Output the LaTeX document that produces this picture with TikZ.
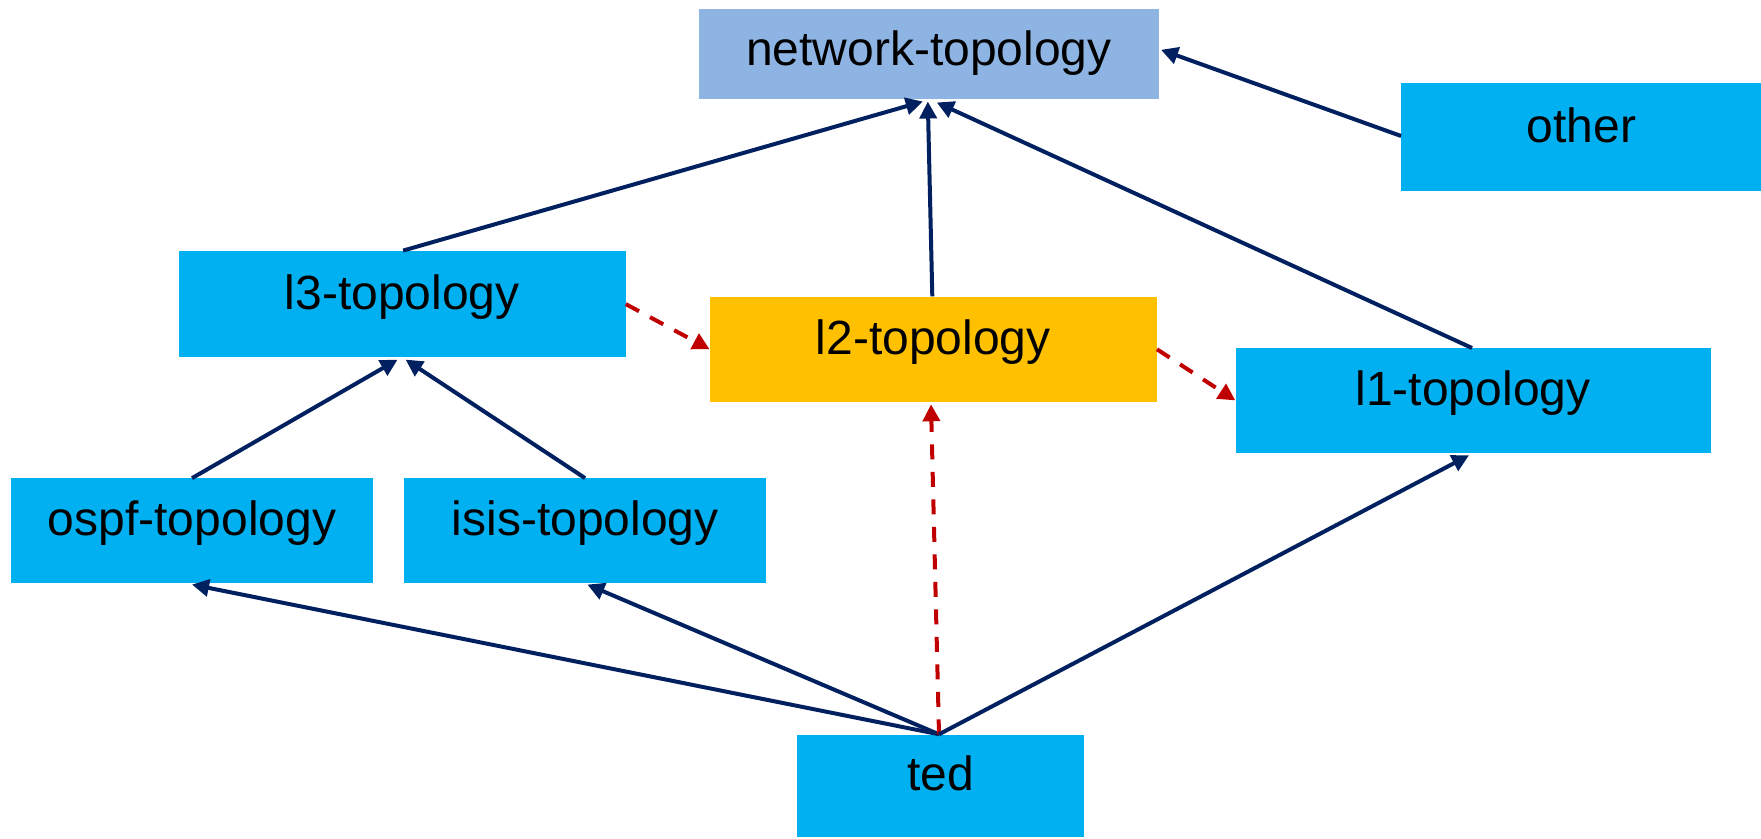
\documentclass[tikz,border=0pt]{standalone}
\usepackage{fontspec}
\setmainfont{Liberation Sans}
\usetikzlibrary{arrows.meta}
\definecolor{cblue}{HTML}{00B0F0}
\definecolor{netblue}{HTML}{8EB4E3}
\definecolor{gold}{HTML}{FFC000}
\definecolor{navy}{HTML}{002060}
\definecolor{dred}{HTML}{C00000}
\tikzset{
  box/.style={rectangle, inner sep=0pt, text=black, text height=36pt, text depth=26pt,
    font=\fontsize{48}{58}\selectfont},
  cbox/.style={box, fill=cblue},
  arr/.style={draw=navy, line width=4pt, -{Triangle[length=17pt,width=17pt]}},
  darr/.style={draw=dred, line width=4pt, dash pattern=on 15pt off 12.5pt,
    -{Triangle[length=17pt,width=17pt]}}
}
\begin{document}
\begin{tikzpicture}[x=1pt,y=-1pt]
\useasboundingbox (0,0) rectangle (1761,838);
\node[box, fill=netblue, text depth=13pt, minimum width=460pt, minimum height=90pt] (net) at (928.8,54.3) {network-topology};
\node[cbox, minimum width=360pt, minimum height=108pt] (other) at (1581.3,137) {other};
\node[cbox, minimum width=447pt, minimum height=106.6pt] (l3) at (402.1,304.1) {l3-topology};
\node[box, fill=gold, minimum width=447pt, minimum height=105.6pt] (l2) at (933.3,349.3) {l2-topology};
\node[cbox, minimum width=475pt, minimum height=104.4pt] (l1) at (1473,400.4) {l1-topology};
\node[cbox, minimum width=361.7pt, minimum height=104.5pt] (ospf) at (192,530.6) {ospf-topology};
\node[cbox, minimum width=361.7pt, minimum height=104.5pt] (isis) at (585.1,530.6) {isis-topology};
\node[cbox, minimum width=286.4pt, minimum height=102.2pt] (ted) at (940.6,785.6) {ted};

\draw[arr] ([xshift=1pt]l3.north) -- ([xshift=-6pt,yshift=-2pt]net.south);
\draw[arr] ([xshift=-1pt]l2.north) -- ([xshift=-1pt,yshift=-2pt]net.south);
\draw[arr] ([xshift=-1pt]l1.north) -- ([xshift=8pt,yshift=-3pt]net.south);
\draw[arr] ([yshift=1pt]other.west) -- ([xshift=2pt,yshift=4.5pt]net.east);
\draw[darr] (l3.east) -- (l2.west);
\draw[darr] (l2.east) -- (l1.west);
\draw[arr] (ospf.north) -- ([xshift=-4.5pt,yshift=-2pt]l3.south);
\draw[arr] (isis.north) -- ([xshift=3.5pt,yshift=-2pt]l3.south);
\draw[arr] ([xshift=-1.6pt]ted.north) -- ([yshift=-1.5pt]ospf.south);
\draw[arr] ([xshift=-1.6pt]ted.north) -- ([xshift=2.3pt,yshift=-1.5pt]isis.south);
\draw[darr] ([xshift=-1.6pt]ted.north) -- ([xshift=-2.3pt,yshift=-2pt]l2.south);
\draw[arr] ([xshift=-1.6pt]ted.north) -- ([xshift=-4pt,yshift=-2.5pt]l1.south);
\end{tikzpicture}
\end{document}
